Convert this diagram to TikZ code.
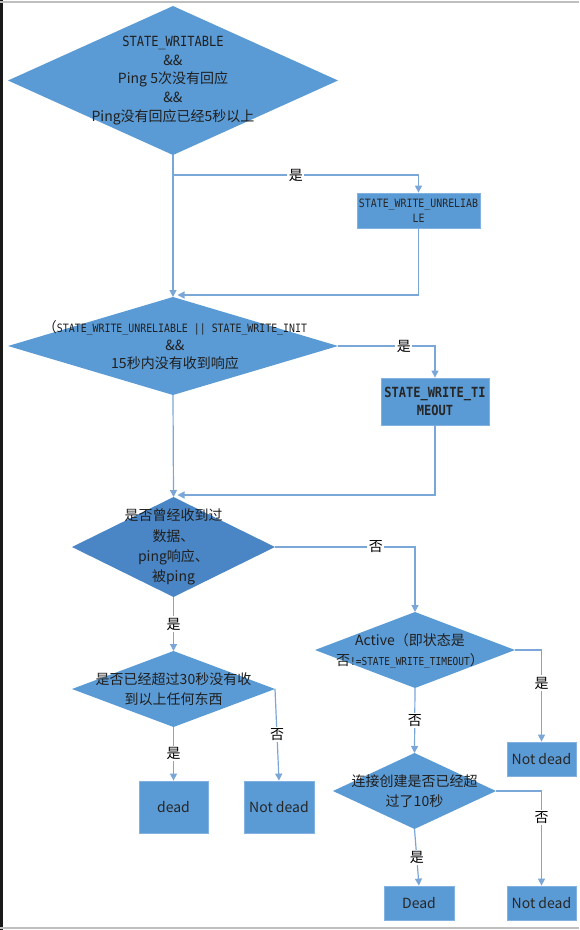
\documentclass[tikz,border=0pt]{standalone}
\usepackage{fontspec}
\setmainfont{Noto Sans CJK SC}
\newfontfamily\stfont[FakeStretch=0.86]{DejaVu Sans Mono}
\usepackage{tikz}
\usetikzlibrary{arrows.meta,positioning,calc,shapes.geometric}
\definecolor{qblue}{RGB}{91,155,213}
\definecolor{qdark}{RGB}{74,134,197}
\definecolor{qline}{RGB}{122,166,216}
\definecolor{qedge}{RGB}{130,178,226}
\newcommand{\cnsize}{\fontsize{14}{19.5}\selectfont}
\tikzset{
  dec/.style={diamond, fill=qblue, inner sep=0pt, outer sep=0pt},
  blk/.style={rectangle, fill=qblue, draw=qedge, line width=0.8pt, inner sep=0pt, align=center, text=black!85, font=\cnsize},
  txt/.style={align=center, inner sep=0pt, text=black!88, font=\cnsize},
  ln/.style={draw=qline, line width=1.2pt},
  fl/.style={ln, -{Triangle[length=7pt,width=7pt]}},
  yn/.style={fill=white, inner sep=1.5pt, font=\cnsize, text=black},
}

\begin{document}
\begin{tikzpicture}[x=1pt,y=-1pt]
\useasboundingbox (0,0) rectangle (579,930);
% frame of the screenshot
\fill[black!90] (0,0) rectangle (2.5,930);
\draw[black!25, line width=1.5pt] (0,2) -- (579,2);
\draw[black!25, line width=1.5pt] (0,928) -- (579,928);
% decisions
\node[dec, minimum width=330pt, minimum height=149pt] (d1) at (173,80.5) {};
\node[dec, minimum width=330pt, minimum height=98pt] (d2) at (173,346) {};
\node[dec, fill=qdark, minimum width=203pt, minimum height=100pt] (d3) at (173.5,547) {};
\node[dec, minimum width=200pt, minimum height=76pt] (d4) at (415,650) {};
\node[dec, minimum width=203pt, minimum height=76pt] (d5) at (173.5,689) {};
\node[dec, minimum width=163pt, minimum height=76pt] (d6) at (414.5,791) {};
\node[txt, font=\fontsize{14}{18.75}\selectfont] (t1) at (d1) {{\stfont\fontsize{14}{18.75}\selectfont STATE\_WRITABLE}\\\&\&\\Ping 5次没有回应\\\&\&\\Ping没有回应已经5秒以上};
\node[txt, font=\fontsize{14}{18}\selectfont] (t2) at (175,345) {（{\stfont\fontsize{11.5}{18}\selectfont STATE\_WRITE\_UNRELIABLE || STATE\_WRITE\_INIT}\\\&\&\\15秒内没有收到响应};
\node[txt, font=\fontsize{14}{20.3}\selectfont] (t3) at (d3) {是否曾经收到过\\数据、\\ping响应、\\被ping};
\node[txt] (t4) at (410,651) {Active（即状态是\\否{\stfont\fontsize{11}{19.5}\selectfont !=STATE\_WRITE\_TIMEOUT}）};
\node[txt] (t5) at (d5) {是否已经超过30秒没有收\\到以上任何东西};
\node[txt] (t6) at (d6) {连接创建是否已经超\\过了10秒};
% states and results
\node[blk, minimum width=123pt, minimum height=35pt, font=\stfont\fontsize{11.5}{15}\selectfont] (b1) at (418.5,210.5) {STATE\_WRITE\_UNRELIAB\\LE};
\node[blk, minimum width=108pt, minimum height=47pt, font=\stfont\bfseries\fontsize{14}{18}\selectfont] (b2) at (435,401.5) {STATE\_WRITE\_TI\\MEOUT};
\node[blk, minimum width=69pt, minimum height=34pt] (nd1) at (541.5,759) {Not dead};
\node[blk, minimum width=69pt, minimum height=52pt] (dead) at (173.5,807) {dead};
\node[blk, minimum width=70pt, minimum height=52pt] (nd2) at (279,807) {Not dead};
\node[blk, minimum width=70pt, minimum height=34pt] (dead2) at (419,903) {Dead};
\node[blk, minimum width=69pt, minimum height=34pt] (nd3) at (541.5,903) {Not dead};
% joints on the main line
\coordinate (j1) at (173,175);
\coordinate (r1) at (177.5,295);
\coordinate (r2) at (177.5,495);
% first check
\draw[fl] (d1.south) -- (d2.north);
\draw[fl] (j1) -| (b1.north) node[yn, pos=0.25] {是};
\draw[fl] (b1.south) |- (r1);
% second check
\draw[fl] (d2.east) -| (b2.north) node[yn, pos=0.34] {是};
\draw[fl] (d2.south) -- (d3.north);
\draw[fl] (b2.south) |- (r2);
% received anything
\draw[fl] (d3.east) -| (d4.north) node[yn, pos=0.36] {否};
\draw[fl] (d3.south) -- (d5.north) node[yn, midway] {是};
% not received
\draw[fl] (d4.east) -| (nd1.north) node[yn, pos=0.68] {是};
\draw[fl] (d4.south) -- (d6.north) node[yn, midway] {否};
\draw[fl] (d6.south) -- (dead2.north) node[yn, midway] {是};
\draw[fl] (d6.east) -| (nd3.north) node[yn, pos=0.64] {否};
% received before
\draw[fl] (d5.south) -- (dead.north) node[yn, midway] {是};
\draw[fl] (d5.east) -- (nd2.north) node[yn, midway] {否};
\end{tikzpicture}
\end{document}
